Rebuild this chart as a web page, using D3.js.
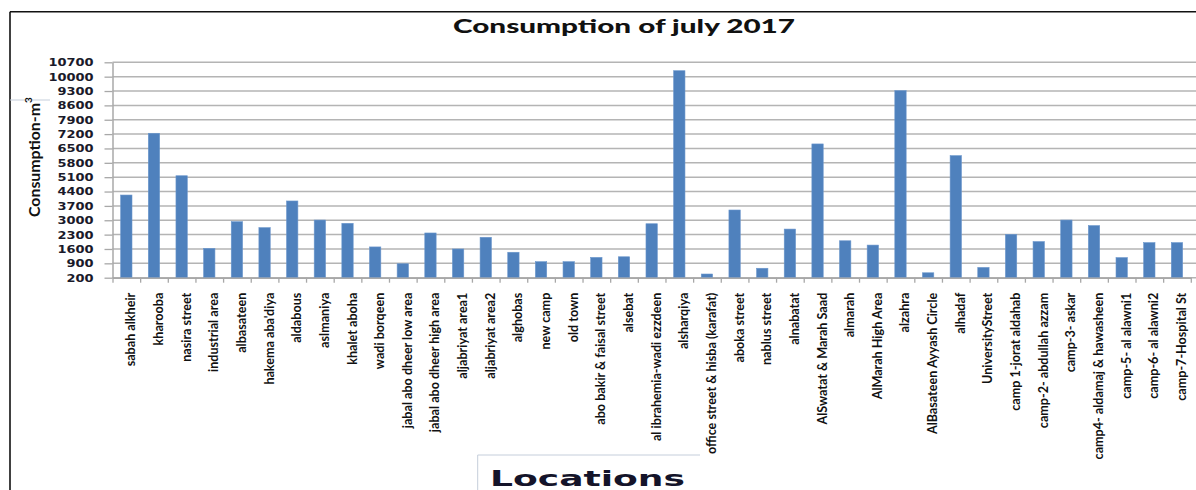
<!DOCTYPE html>
<html>
<head>
<meta charset="utf-8">
<script src="https://cdn.jsdelivr.net/npm/d3@7"></script>
<style>
  html, body { margin: 0; padding: 0; background: #fff; }
  svg { display: block; }
</style>
</head>
<body>
<div id="chart"></div>
<script>
const categories = [
  "sabah alkheir", "kharooba", "nasira street", "industrial area", "albasateen",
  "hakema aba'diya", "aldabous", "aslmaniya", "khalet aboha", "wadi borqeen",
  "jabal abo dheer low area", "jabal abo dheer high area", "aljabriyat area1",
  "aljabriyat area2", "alghobas", "new camp", "old town", "abo bakir & faisal street",
  "alsebat", "al ibrahemia-wadi ezzdeen", "alsharqiya", "office street & hisba (karafat)",
  "aboka street", "nablus street", "alnabatat", "AlSwatat & Marah Saad", "almarah",
  "AlMarah High Area", "alzahra", "AlBasateen Ayyash Circle", "alhadaf", "UniversityStreet",
  "camp 1-jorat aldahab", "camp-2- abdullah azzam", "camp-3- askar",
  "camp4- aldamaj & hawasheen", "camp-5- al alawni1", "camp-6- al alawni2", "camp-7-Hospital St"
];
const consumption = [
  4230, 7240, 5170, 1630, 2930, 2640, 3940, 3010, 2850, 1700,
  880, 2380, 1600, 2170, 1440, 980, 980, 1190, 1220, 2830,
  10290, 380, 3500, 660, 2570, 6720, 2000, 1790, 9320, 440,
  6150, 700, 2310, 1960, 3010, 2740, 1180, 1910, 1910
];
const yTickValues = [200, 900, 1600, 2300, 3000, 3700, 4400, 5100, 5800, 6500, 7200, 7900, 8600, 9300, 10000, 10700];
const chartTitle = "Consumption of july 2017";
const yTitle = "Consumption-m";
const yTitleSup = "3";
const xTitle = "Locations";

const W = 1196, H = 490;
const x0 = 112.5, x1 = 1190.8, yTop = 62.3, yBot = 277.7;

const svg = d3.select("#chart").append("svg").attr("width", W).attr("height", H);
svg.append("rect").attr("width", W).attr("height", H).attr("fill", "#fff");

const x = d3.scaleBand().domain(categories).range([x0, x1]).paddingInner(0.59).paddingOuter(0.295);
const xb = d3.scaleLinear().domain([0, categories.length]).range([x0, x1]);
const y = d3.scaleLinear().domain([200, 10700]).range([yBot, yTop]);

// outer frame
svg.append("line").attr("x1", 10).attr("x2", W).attr("y1", 11.7).attr("y2", 11.7).attr("stroke", "#111").attr("stroke-width", 1.6);
svg.append("line").attr("x1", 10).attr("x2", 10).attr("y1", 11.7).attr("y2", H).attr("stroke", "#111").attr("stroke-width", 1.6);
// faint box edges
svg.append("line").attr("x1", 10).attr("x2", 50).attr("y1", 100).attr("y2", 100).attr("stroke", "#c5cedb").attr("stroke-width", 1);
svg.append("line").attr("x1", 477.7).attr("x2", 700).attr("y1", 455).attr("y2", 455).attr("stroke", "#c5cedb").attr("stroke-width", 1);
svg.append("line").attr("x1", 477.7).attr("x2", 477.7).attr("y1", 455).attr("y2", H).attr("stroke", "#c5cedb").attr("stroke-width", 1);

// gridlines
svg.append("g").selectAll("line").data(yTickValues).join("line")
  .attr("x1", x0).attr("x2", W)
  .attr("y1", d => y(d)).attr("y2", d => y(d))
  .attr("stroke", "#b4b4b4").attr("stroke-width", 1.5);

// bars
svg.append("g").selectAll("rect").data(categories).join("rect")
  .attr("x", d => x(d))
  .attr("width", x.bandwidth())
  .attr("y", (d, i) => y(consumption[i]))
  .attr("height", (d, i) => y(200) - y(consumption[i]))
  .attr("fill", "#4f81bd")
  .attr("stroke", "#6a96cc").attr("stroke-width", 0.6);

// y axis
const yAxis = svg.append("g").attr("transform", `translate(${x0},0)`)
  .call(d3.axisLeft(y).tickValues(yTickValues).tickFormat(d3.format("d")).tickSize(8).tickSizeOuter(0).tickPadding(0));
yAxis.select(".domain").attr("stroke", "#a8a8a8").attr("stroke-width", 1.5);
yAxis.selectAll(".tick line").attr("stroke", "#a8a8a8").attr("stroke-width", 1.3);
yAxis.selectAll(".tick text")
  .attr("x", 0).attr("dy", "0.36em")
  .attr("transform", "translate(-19,0) scale(1.35,1)")
  .attr("text-anchor", "end")
  .style("font-family", "'DejaVu Sans'").style("font-weight", "bold").style("font-size", "9.6px")
  .attr("fill", "#1a1a2a");

// x axis (category boundaries)
const xAxis = svg.append("g").attr("transform", `translate(0,${yBot})`)
  .call(d3.axisBottom(xb).tickValues(d3.range(categories.length + 1)).tickSize(5).tickSizeOuter(0).tickFormat(""));
xAxis.select(".domain").attr("stroke", "#a8a8a8").attr("stroke-width", 1.5);
xAxis.selectAll(".tick line").attr("stroke", "#a8a8a8").attr("stroke-width", 1.3);

// x labels
svg.append("g").selectAll("text").data(categories).join("text")
  .attr("transform", d => `translate(${x(d) + x.bandwidth() / 2},${yBot + 15}) rotate(-90)`)
  .attr("x", 0).attr("y", 9)
  .attr("text-anchor", "end")
  .style("font-family", "Lato").style("font-weight", "bold").style("font-size", "12.6px")
  .attr("fill", "#111")
  .text(d => d);

// title
svg.append("text").attr("x", 624).attr("y", 33.3).attr("text-anchor", "middle")
  .attr("textLength", 342).attr("lengthAdjust", "spacingAndGlyphs")
  .style("font-family", "Lato").style("font-weight", "900").style("font-size", "18px")
  .attr("fill", "#111").text(chartTitle);

// y title
const yt = svg.append("text").attr("transform", "translate(40,217) rotate(-90)")
  .attr("x", 0).attr("y", 0)
  .style("font-family", "Lato").style("font-weight", "bold").style("font-size", "15px")
  .attr("fill", "#111");
yt.append("tspan").attr("textLength", 114).attr("lengthAdjust", "spacingAndGlyphs").text(yTitle);
yt.append("tspan").attr("dy", -8).style("font-size", "10px").text(yTitleSup);

// x title
svg.append("text").attr("x", 490).attr("y", 486)
  .attr("textLength", 195).attr("lengthAdjust", "spacingAndGlyphs")
  .style("font-family", "'DejaVu Sans'").style("font-weight", "bold").style("font-size", "22px")
  .attr("fill", "#14142a").text(xTitle);
</script>
</body>
</html>
